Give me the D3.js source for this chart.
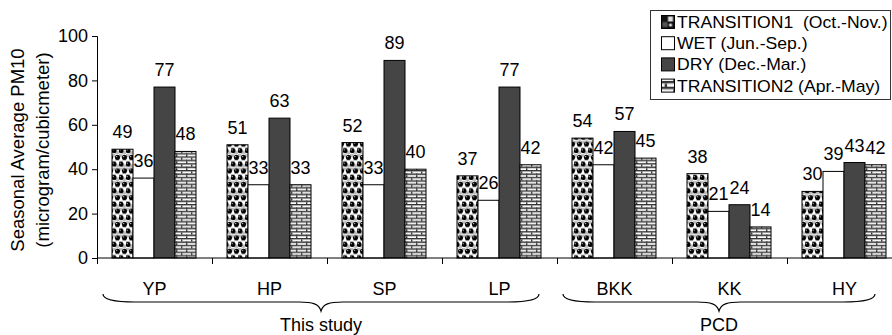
<!DOCTYPE html>
<html>
<head>
<meta charset="utf-8">
<script src="https://cdnjs.cloudflare.com/ajax/libs/d3/7.8.5/d3.min.js"></script>
<style>
  body { margin: 0; background: #fff; }
  svg { display: block; font-family: "Liberation Sans", Arial, sans-serif; }
  .axis text { font-size: 18px; fill: #000; font-family: "Liberation Sans", Arial, sans-serif; }
  .axis path, .axis line { stroke: #000; }
</style>
</head>
<body>
<div id="chart"></div>
<script>
// sites on the x axis
var sites = ["YP", "HP", "SP", "LP", "BKK", "KK", "HY"];
// seasons (legend order)
var seasons = ["TRANSITION1  (Oct.-Nov.)", "WET (Jun.-Sep.)", "DRY (Dec.-Mar.)", "TRANSITION2 (Apr.-May)"];
// seasonal average PM10 per site
var transition1 = [49, 51, 52, 37, 54, 38, 30];
var wet         = [36, 33, 33, 26, 42, 21, 39];
var dry         = [77, 63, 89, 77, 57, 24, 43];
var transition2 = [48, 33, 40, 42, 45, 14, 42];
var yTicks = [0, 20, 40, 60, 80, 100];
// site groups under the braces
var groupNames = ["This study", "PCD"];
var groupSites = [["YP", "HP", "SP", "LP"], ["BKK", "KK", "HY"]];

var W = 892, H = 335;
var svg = d3.select("#chart").append("svg")
    .attr("width", W).attr("height", H);

var defs = svg.append("defs");

// ball/checker fill for transition1
function ballPattern(id, scale) {
  var p = defs.append("pattern")
      .attr("id", id)
      .attr("patternUnits", "userSpaceOnUse")
      .attr("width", 7).attr("height", 13.4);
  if (scale) p.attr("patternTransform", "scale(" + scale + ")");
  p.append("rect").attr("width", 7).attr("height", 13.4).attr("fill", "#fff");
  [[0, 0], [3.5, 3.35], [0, 6.7], [3.5, 10.05]].forEach(function(c) {
    p.append("rect").attr("x", c[0]).attr("y", c[1]).attr("width", 3.5).attr("height", 3.35).attr("fill", "#bdbdbd");
  });
  [[2, 3.3], [5.5, 10]].forEach(function(c) {
    p.append("circle").attr("cx", c[0]).attr("cy", c[1]).attr("r", 2.5).attr("fill", "#000");
    p.append("circle").attr("cx", c[0] - 0.8).attr("cy", c[1] - 0.8).attr("r", 0.7).attr("fill", "#ddd");
  });
  p.append("circle").attr("cx", 9).attr("cy", 10).attr("r", 2.5).attr("fill", "#000");
  p.append("circle").attr("cx", -1.5).attr("cy", 10).attr("r", 2.5).attr("fill", "#000");
}
// brick fill for transition2
function brickPattern(id, scale) {
  var p = defs.append("pattern")
      .attr("id", id)
      .attr("patternUnits", "userSpaceOnUse")
      .attr("width", 10).attr("height", 6.8);
  if (scale) p.attr("patternTransform", "scale(" + scale + ")");
  p.append("rect").attr("width", 10).attr("height", 6.8).attr("fill", "#fff");
  p.append("rect").attr("y", 0).attr("width", 10).attr("height", 1.4).attr("fill", "#333");
  p.append("rect").attr("y", 3.4).attr("width", 10).attr("height", 1.4).attr("fill", "#333");
  p.append("rect").attr("x", 1).attr("y", 0).attr("width", 1.4).attr("height", 3.4).attr("fill", "#333");
  p.append("rect").attr("x", 6).attr("y", 3.4).attr("width", 1.4).attr("height", 3.4).attr("fill", "#333");
  p.append("rect").attr("y", 1.4).attr("width", 10).attr("height", 0.5).attr("fill", "#aaa");
  p.append("rect").attr("y", 4.8).attr("width", 10).attr("height", 0.5).attr("fill", "#aaa");
}
ballPattern("t1", null);
brickPattern("t2", null);
brickPattern("t2big", 1.7);
// legend swatch for transition1: dark square with a light quadrant
var lp = defs.append("pattern").attr("id", "t1leg")
    .attr("patternUnits", "objectBoundingBox").attr("width", 1).attr("height", 1);
lp.append("rect").attr("width", 13).attr("height", 13).attr("fill", "#111");
lp.append("rect").attr("x", 6.5).attr("y", 1).attr("width", 5).attr("height", 5).attr("fill", "#ddd");
lp.append("rect").attr("x", 1).attr("y", 6.5).attr("width", 5).attr("height", 5).attr("fill", "#555");
lp.append("circle").attr("cx", 9).attr("cy", 9.5).attr("r", 1.6).attr("fill", "#eee");

var fills = ["url(#t1)", "#fff", "#454545", "url(#t2)"];
var legendFills = ["url(#t1leg)", "#fff", "#454545", "url(#t2big)"];

var x = d3.scaleBand().domain(sites).range([97, 97 + 115 * sites.length]);
var xs = d3.scaleBand().domain(d3.range(4)).range([15, 99]);
var y = d3.scaleLinear().domain([0, 100]).range([258, 36]);

var series = [transition1, wet, dry, transition2];

// bars
var g = svg.append("g");
sites.forEach(function(s, i) {
  series.forEach(function(vals, k) {
    var v = vals[i];
    g.append("rect")
      .attr("x", x(s) + xs(k))
      .attr("y", y(v))
      .attr("width", xs.bandwidth())
      .attr("height", y(0) - y(v))
      .attr("fill", fills[k])
      .attr("stroke", "#000")
      .attr("stroke-width", 1);
  });
});

// value labels
sites.forEach(function(s, i) {
  series.forEach(function(vals, k) {
    var v = vals[i];
    g.append("text")
      .attr("x", x(s) + xs(k) + xs.bandwidth() / 2)
      .attr("y", y(v) - 11)
      .attr("text-anchor", "middle")
      .attr("font-size", 18)
      .text(v);
  });
});

// y axis
svg.append("g")
    .attr("class", "axis")
    .attr("transform", "translate(97,0)")
    .call(d3.axisLeft(y).tickValues(yTicks).tickSizeOuter(0).tickSize(5).tickPadding(4));

// x axis line with ticks at site boundaries
var xa = svg.append("g").attr("class", "axis");
xa.append("line")
    .attr("x1", 97).attr("x2", W).attr("y1", y(0)).attr("y2", y(0))
    .attr("stroke", "#000");
xa.selectAll(".tk").data(sites).enter().append("line")
    .attr("x1", function(d) { return x(d) + 0.5; })
    .attr("x2", function(d) { return x(d) + 0.5; })
    .attr("y1", y(0)).attr("y2", y(0) + 6)
    .attr("stroke", "#000");
xa.selectAll(".lbl").data(sites).enter().append("text")
    .attr("x", function(d) { return x(d) + x.bandwidth() / 2; })
    .attr("y", 295)
    .attr("text-anchor", "middle")
    .text(function(d) { return d; });

// braces with group names
groupNames.forEach(function(name, gi) {
  var list = groupSites[gi];
  var x0 = x(list[0]) + 6;
  var x1 = x(list[list.length - 1]) + x.bandwidth() - 18 - gi * 9;
  var xm = (x0 + x1) / 2;
  var yTop = 294, yMid = 302, yTip = 311;
  var path = d3.path();
  path.moveTo(x0, yTop);
  path.bezierCurveTo(x0, yMid - 2, x0 + 12, yMid, x0 + 32, yMid);
  path.lineTo(xm - 22, yMid);
  path.bezierCurveTo(xm - 8, yMid, xm - 2, yMid + 2, xm, yTip);
  path.bezierCurveTo(xm + 2, yMid + 2, xm + 8, yMid, xm + 22, yMid);
  path.lineTo(x1 - 32, yMid);
  path.bezierCurveTo(x1 - 12, yMid, x1, yMid - 2, x1, yTop);
  svg.append("path")
      .attr("d", path.toString())
      .attr("fill", "none")
      .attr("stroke", "#000")
      .attr("stroke-width", 1.2);
  svg.append("text")
      .attr("x", xm)
      .attr("y", 331)
      .attr("text-anchor", "middle")
      .attr("font-size", 18)
      .text(name);
});

// y axis title
var yt = svg.append("text")
    .attr("transform", "translate(24,150) rotate(-90)")
    .attr("text-anchor", "middle")
    .attr("font-size", 18.5);
yt.append("tspan").attr("x", 0).attr("dy", 0).text("Seasonal Average PM10");
yt.append("tspan").attr("x", 0).attr("dy", 25).text("(microgram/cubicmeter)");

// legend
var lg = svg.append("g");
lg.append("rect")
    .attr("x", 650.5).attr("y", 10.5).attr("width", 240).attr("height", 89)
    .attr("fill", "#fff").attr("stroke", "#333");
seasons.forEach(function(s, k) {
  var cy = 22 + k * 21.2;
  lg.append("rect")
      .attr("x", 661.5).attr("y", cy - 6.5).attr("width", 13).attr("height", 13)
      .attr("fill", legendFills[k]).attr("stroke", "#000");
  lg.append("text")
      .attr("transform", "translate(677," + (cy + 6) + ") scale(1.1,1)")
      .attr("font-size", 16)
      .style("white-space", "pre")
      .text(s);
});
</script>
</body>
</html>
